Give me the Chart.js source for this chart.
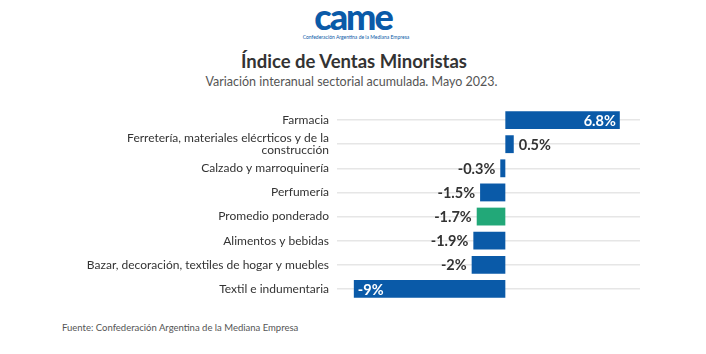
<!DOCTYPE html>
<html>
<head>
<meta charset="utf-8">
<script src="https://cdn.jsdelivr.net/npm/chart.js@4"></script>
<style>
    html, body { margin: 0; padding: 0; background: #fff; }
    body { width: 706px; height: 354px; position: relative; overflow: hidden; font-family: Lato, sans-serif; }
    .logo { position: absolute; left: 0; width: 706px; top: -6px; text-align: center; color: #0a5aa8; font: 900 36px Lato, sans-serif; letter-spacing: -2px; }
    .logo-sub { position: absolute; left: 0; width: 712px; top: 34px; text-align: center; color: #0a5aa8; font: 5px Lato, sans-serif; }
    .title { position: absolute; left: 0; width: 708px; top: 50px; text-align: center; color: #333; font: 700 18.5px Lato, sans-serif; }
    .subtitle { position: absolute; left: 0; width: 703px; top: 74px; text-align: center; color: #555; font: 12.5px Lato, sans-serif; }
    .source { position: absolute; left: 62px; top: 322px; color: #555; font: 9.5px Lato, sans-serif; }
    .chart-box { position: absolute; left: 0; top: 94px; width: 706px; height: 221px; }
</style>
</head>
<body>
<div class="logo">came</div>
<div class="logo-sub">Confederación Argentina de la Mediana Empresa</div>
<div class="title">Índice de Ventas Minoristas</div>
<div class="subtitle">Variación interanual sectorial acumulada. Mayo 2023.</div>
<div class="chart-box"><canvas id="ventasChart"></canvas></div>
<div class="source">Fuente: Confederación Argentina de la Mediana Empresa</div>

<script>
// Datos
const categories = [
    'Farmacia',
    ['Ferretería, materiales elécrticos y de la', 'construcción'],
    'Calzado y marroquinería',
    'Perfumería',
    'Promedio ponderado',
    'Alimentos y bebidas',
    'Bazar, decoración, textiles de hogar y muebles',
    'Textil e indumentaria'
];
const values = [6.8, 0.5, -0.3, -1.5, -1.7, -1.9, -2, -9];
const valueLabels = ['6.8%', '0.5%', '-0.3%', '-1.5%', '-1.7%', '-1.9%', '-2%', '-9%'];
const highlightIndex = 4; // promedio ponderado

const BLUE = '#0a5aa8';
const GREEN = '#22a878';

// Etiquetas de valor sobre las barras
const valueLabelPlugin = {
    id: 'valueLabels',
    afterDatasetsDraw(chart) {
        const ctx = chart.ctx;
        const meta = chart.getDatasetMeta(0);
        ctx.save();
        ctx.font = 'bold 14.5px Lato, sans-serif';
        ctx.textBaseline = 'middle';
        meta.data.forEach(function(bar, i) {
            const v = values[i];
            const text = valueLabels[i];
            const w = Math.abs(bar.x - bar.base);
            const tw = ctx.measureText(text).width;
            const inside = w > tw + 12;
            if (inside) {
                ctx.fillStyle = '#fff';
                if (v >= 0) { ctx.textAlign = 'right'; ctx.fillText(text, bar.x - 4, bar.y + 1); }
                else { ctx.textAlign = 'left'; ctx.fillText(text, bar.x + 4, bar.y + 1); }
            } else {
                ctx.fillStyle = '#333';
                if (v >= 0) { ctx.textAlign = 'left'; ctx.fillText(text, bar.x + 5, bar.y + 1); }
                else { ctx.textAlign = 'right'; ctx.fillText(text, bar.x - 5, bar.y + 1); }
            }
        });
        ctx.restore();
    }
};

var ctx = document.getElementById('ventasChart').getContext('2d');
var ventasChart = new Chart(ctx, {
    type: 'bar',
    data: {
        labels: categories,
        datasets: [{
            data: values,
            backgroundColor: values.map((v, i) => i === highlightIndex ? GREEN : BLUE),
            borderWidth: 0,
            categoryPercentage: 1,
            barPercentage: 0.74
        }]
    },
    options: {
        indexAxis: 'y',
        responsive: true,
        maintainAspectRatio: false,
        animation: false,
        layout: {
            padding: { top: 3, bottom: 4, right: 66, left: 0 }
        },
        plugins: {
            legend: { display: false },
            tooltip: { enabled: false }
        },
        scales: {
            x: {
                display: false,
                min: -10,
                max: 8
            },
            y: {
                afterFit: function(scale) { scale.width = 337; },
                border: { display: false },
                grid: {
                    offset: false,
                    color: '#e6e6e6',
                    lineWidth: 1.5,
                    drawTicks: false
                },
                ticks: {
                    autoSkip: false,
                    color: '#333',
                    padding: 8,
                    font: { family: 'Lato, sans-serif', size: 12, lineHeight: 1 }
                }
            }
        }
    },
    plugins: [valueLabelPlugin]
});
</script>
</body>
</html>
